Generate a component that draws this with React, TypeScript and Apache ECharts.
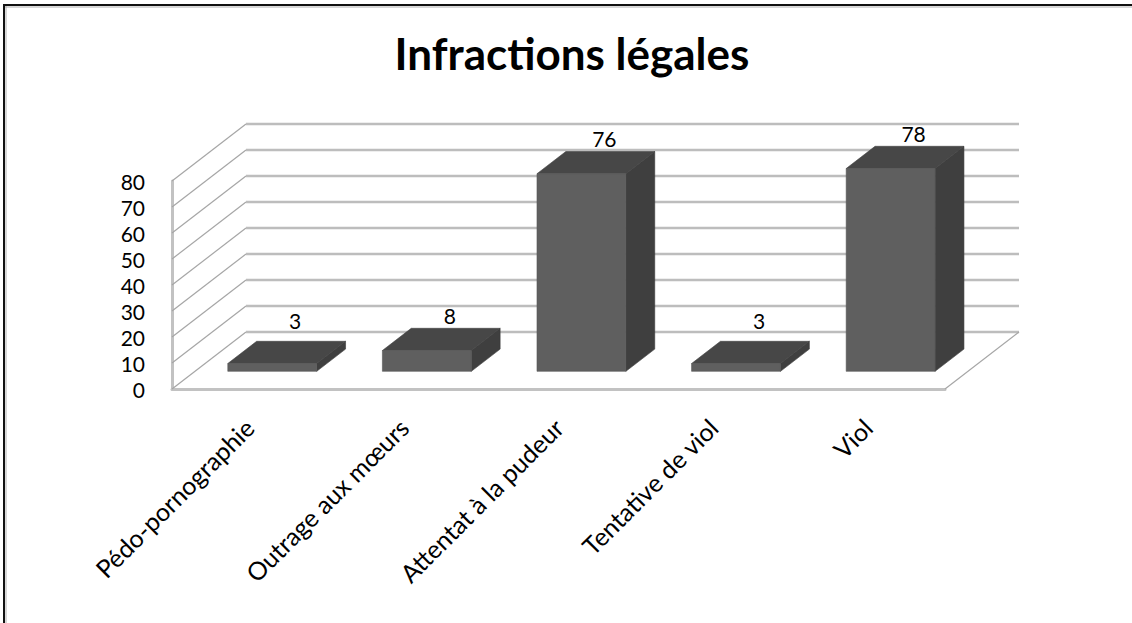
import { useEffect, useRef } from "react";
import * as echarts from "echarts";

// Offence categories and number of cases
const categories = [
  "Pédo-pornographie",
  "Outrage aux mœurs",
  "Attentat à la pudeur",
  "Tentative de viol",
  "Viol",
];
const counts = [3, 8, 76, 3, 78];
const yTicks = [0, 10, 20, 30, 40, 50, 60, 70, 80];

const FONT = "Lato, 'Noto Sans', sans-serif";

// Perspective offset of the back wall from the front plane
const DEPTH_X = 74;
const DEPTH_Y = 57;
// Bars stand in the middle band of the floor depth
const BAR_NEAR = 0.31;
const BAR_FAR = 0.7;
const BAR_WIDTH_RATIO = 0.575;

export default function App() {
  const ref = useRef<HTMLDivElement>(null);

  useEffect(() => {
    if (!ref.current) return;
    document.body.style.margin = "0";
    document.documentElement.style.overflow = "hidden";
    document.body.style.overflow = "hidden";
    const chart = echarts.init(ref.current, undefined, { renderer: "svg" });

    const wallRender = (params: any, api: any) => {
      const cs = params.coordSys;
      const v = api.value(1);
      const y = api.coord([0, v])[1];
      const x0 = cs.x;
      const x1 = cs.x + cs.width;
      const children: any[] = [
        {
          type: "line",
          shape: { x1: x0, y1: y, x2: x0 + DEPTH_X, y2: y - DEPTH_Y },
          style: { stroke: "#a6a6a6", lineWidth: 1.2 },
        },
        {
          type: "line",
          shape: { x1: x0 + DEPTH_X, y1: y - DEPTH_Y, x2: x1 + DEPTH_X, y2: y - DEPTH_Y },
          style: { stroke: "#bdbdbd", lineWidth: 2.4 },
        },
      ];
      if (v === 0) {
        children.push({
          type: "line",
          shape: { x1: x1, y1: y, x2: x1 + DEPTH_X, y2: y - DEPTH_Y },
          style: { stroke: "#a6a6a6", lineWidth: 1.2 },
        });
      }
      return { type: "group", children };
    };

    const barRender = (params: any, api: any) => {
      const i = api.value(0);
      const v = api.value(1);
      const top = api.coord([i, v]);
      const base = api.coord([i, 0]);
      const band = api.size([1, 0])[0];
      const w = band * BAR_WIDTH_RATIO;
      const nx = DEPTH_X * BAR_NEAR;
      const ny = DEPTH_Y * BAR_NEAR;
      const dx = DEPTH_X * (BAR_FAR - BAR_NEAR);
      const dy = DEPTH_Y * (BAR_FAR - BAR_NEAR);
      const left = top[0] - w / 2 + nx;
      const right = left + w;
      const yt = top[1] - ny;
      const yb = base[1] - ny;
      const labelY = Math.min(yt - dy - 13, base[1] - 69);
      return {
        type: "group",
        children: [
          {
            type: "polygon",
            shape: {
              points: [
                [right, yt],
                [right + dx, yt - dy],
                [right + dx, yb - dy],
                [right, yb],
              ],
            },
            style: { fill: "#3f3f3f", stroke: "#3a3a3a", lineWidth: 0.6 },
          },
          {
            type: "polygon",
            shape: {
              points: [
                [left, yt],
                [right, yt],
                [right + dx, yt - dy],
                [left + dx, yt - dy],
              ],
            },
            style: { fill: "#474747", stroke: "#424242", lineWidth: 0.6 },
          },
          {
            type: "rect",
            shape: { x: left, y: yt, width: w, height: yb - yt },
            style: { fill: "#5f5f5f", stroke: "#585858", lineWidth: 0.6 },
          },
          {
            type: "text",
            x: top[0] + 2 * nx,
            y: labelY,
            style: {
              text: String(v),
              fill: "#000",
              font: `21px ${FONT}`,
              align: "center",
              verticalAlign: "middle",
              textAlign: "center",
              textVerticalAlign: "middle",
            },
          },
        ],
      };
    };

    chart.setOption({
      animation: false,
      backgroundColor: "#fff",
      title: {
        text: "Infractions légales",
        left: 567,
        top: 26,
        textAlign: "center",
        textStyle: {
          fontFamily: FONT,
          fontSize: 44,
          fontWeight: "bold",
          color: "#000",
        },
      },
      graphic: [
        // frame: only its top and left edges fall inside the view
        {
          type: "line",
          shape: { x1: 5, y1: 7, x2: 1132, y2: 7 },
          style: { stroke: "#b0b0b0", lineWidth: 1 },
          silent: true,
        },
        {
          type: "line",
          shape: { x1: 6, y1: 6, x2: 6, y2: 623 },
          style: { stroke: "#b0b0b0", lineWidth: 1 },
          silent: true,
        },
        {
          type: "line",
          shape: { x1: 3, y1: 5, x2: 1132, y2: 5 },
          style: { stroke: "#111", lineWidth: 2 },
          silent: true,
        },
        {
          type: "line",
          shape: { x1: 4, y1: 4, x2: 4, y2: 623 },
          style: { stroke: "#111", lineWidth: 2 },
          silent: true,
        },
      ],
      grid: { left: 172, top: 181, width: 773, height: 208 },
      xAxis: {
        type: "category",
        data: categories,
        boundaryGap: true,
        axisLine: { show: true, lineStyle: { color: "#c2c2c2", width: 3 } },
        axisTick: { show: false },
        axisLabel: {
          rotate: 45,
          margin: 34,
          interval: 0,
          color: "#000",
          fontFamily: FONT,
          fontSize: 25,
        },
        splitLine: { show: false },
      },
      yAxis: {
        type: "value",
        min: 0,
        max: 80,
        interval: 10,
        axisLine: { show: true, lineStyle: { color: "#c2c2c2", width: 3 } },
        axisTick: { show: false },
        axisLabel: {
          margin: 27,
          color: "#000",
          fontFamily: FONT,
          fontSize: 21,
        },
        splitLine: { show: false },
      },
      series: [
        {
          type: "custom",
          name: "walls",
          z: 1,
          silent: true,
          renderItem: wallRender,
          data: yTicks.map((t) => [0, t]),
          encode: { x: 0, y: 1 },
        },
        {
          type: "custom",
          name: "Infractions",
          z: 3,
          renderItem: barRender,
          data: counts.map((c, i) => [i, c]),
          encode: { x: 0, y: 1 },
        },
      ],
    });

    return () => chart.dispose();
  }, []);

  return <div ref={ref} style={{ width: 1132, height: 623, overflow: "hidden" }} />;
}
